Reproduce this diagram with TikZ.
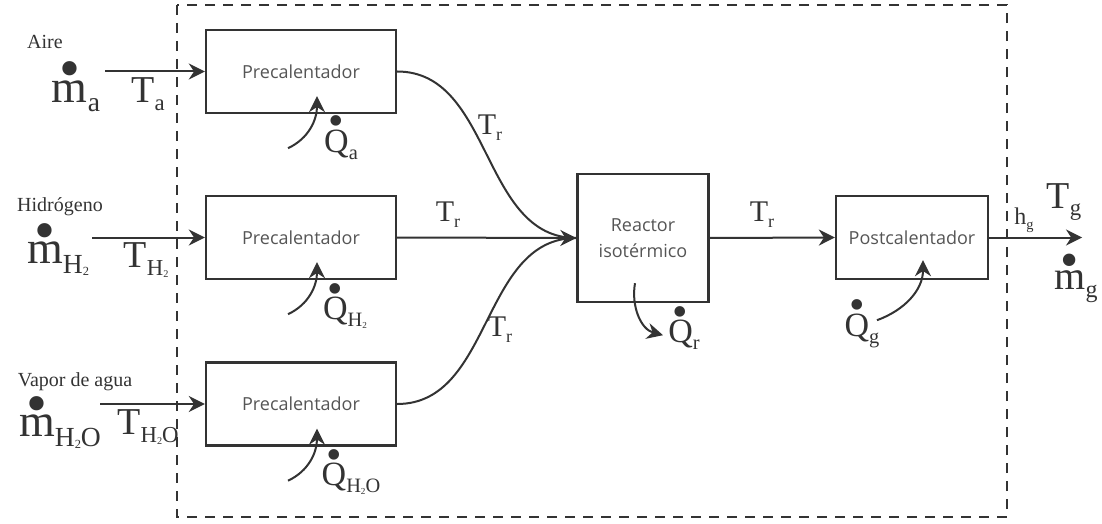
\documentclass[tikz,border=0pt]{standalone}
\usepackage{fontspec}
\setmainfont{Liberation Serif}
\newfontfamily\cajafont{Open Sans}
\usetikzlibrary{arrows.meta, positioning}
\definecolor{trazo}{RGB}{51,51,51}
\definecolor{textocaja}{RGB}{85,85,85}
% subindices y punto de flujo
\newcommand{\ind}[1]{\raisebox{-0.2em}{\scalebox{0.6}{#1}}}
\newcommand{\indd}[1]{\raisebox{-0.1em}{\scalebox{0.45}{#1}}}
\newcommand{\flujo}[1]{\leavevmode\ooalign{#1\cr\hidewidth
  \raisebox{\dimexpr\fontcharht\font`#1-0.16em\relax}{\scalebox{1.3}{\textbullet}}\hidewidth\cr}}
\tikzset{
  caja/.style={draw=trazo, line width=1.2pt, minimum width=95pt,
               minimum height=41.5pt, align=center, text=textocaja,
               font=\cajafont\fontsize{9}{13}\selectfont},
  flecha/.style={draw=trazo, line width=1pt, -{Stealth[length=8pt, width=8pt]}},
  conector/.style={draw=trazo, line width=1pt},
  frontera/.style={draw=trazo, line width=1pt, dash pattern=on 5pt off 4pt},
  etiq/.style={inner sep=0pt, text=trazo},
  corriente/.style={etiq, font=\fontsize{10}{12}\selectfont},
  masa/.style={etiq, font=\fontsize{23}{24}\selectfont},
  temp/.style={etiq, font=\fontsize{19}{20}\selectfont},
  tempr/.style={etiq, font=\fontsize{15}{16}\selectfont},
  calor/.style={etiq, font=\fontsize{17}{18}\selectfont},
}

\begin{document}
\begin{tikzpicture}[x=0.5pt, y=-0.5pt]
  \useasboundingbox (0,0) rectangle (1102,524);

  %% ─── Volumen de control ───────────────────────────────────────────────────
  \draw[frontera] (177,5) rectangle (1007,517);

  %% ─── Precalentadores ──────────────────────────────────────────────────────
  \foreach \i/\yy/\xin in {1/71.5/105, 2/237.5/92, 3/404/100} {
    \node[caja] (pre\i) at (301,\yy) {Precalentador};
    \coordinate (in\i) at (\xin,\yy);
    \draw[flecha] (in\i) -- (pre\i.west);
    % calor de cada precalentador
    \coordinate (qini\i) at ([xshift=-6.5pt, yshift=-17pt]pre\i.south);
    \coordinate (qfin\i) at ([xshift=8pt, yshift=9pt]pre\i.south);
    \draw[flecha] (qini\i) to[out=25, in=-90] (qfin\i);
  }

  \node[corriente] (aire) at (45,42) {Aire};
  \node[masa] (ma) at (76,96) {\flujo{m}\ind{a}};
  \node[temp] (ta) at (148,94) {T\ind{a}};
  \node[calor] (qa) at (341,145) {\flujo{Q}\ind{a}};

  \node[corriente] (hidro) at (60,207) {Hidrógeno};
  \node[masa] (mh) at (58,259) {\flujo{m}\ind{H\indd{2}}};
  \node[temp] (th) at (146,260) {T\ind{H\indd{2}}};
  \node[calor] (qh) at (345,313) {\flujo{Q}\ind{H\indd{2}}};

  \node[corriente] (vapor) at (75,382) {Vapor de agua};
  \node[masa] (mv) at (60,432) {\flujo{m}\ind{H\indd{2}O}};
  \node[temp] (tv) at (148,427) {T\ind{H\indd{2}O}};
  \node[calor] (qv) at (351,479) {\flujo{Q}\ind{H\indd{2}O}};

  %% ─── Reactor ──────────────────────────────────────────────────────────────
  \node[caja, minimum width=65.5pt, minimum height=64pt] (reactor) at (643,238)
    {Reactor\\isotérmico};

  \draw[conector] (pre1.east) to[out=0, in=180] (reactor.west);
  \draw[conector] (pre3.east) to[out=0, in=180] (reactor.west);
  \draw[flecha] (pre2.east) -- (reactor.west);

  \node[tempr] (tr1) at (490,128) {T\ind{r}};
  \node[tempr] (tr2) at (448,215) {T\ind{r}};
  \node[tempr] (tr3) at (500,330) {T\ind{r}};

  \coordinate (qrini) at ([xshift=-4pt, yshift=10pt]reactor.south);
  \coordinate (qrfin) at ([xshift=10pt, yshift=-16pt]reactor.south);
  \draw[flecha] (qrini) to[out=-100, in=165] (qrfin);
  \node[calor] (qr) at (684,335) {\flujo{Q}\ind{r}};

  %% ─── Postcalentador ───────────────────────────────────────────────────────
  \node[caja, minimum width=76pt] (post) at (912,237.5) {Postcalentador};
  \draw[flecha] (reactor.east) -- (post.west);
  \node[tempr] (tr4) at (762,215) {T\ind{r}};

  \coordinate (qgini) at ([xshift=-17.5pt, yshift=-20pt]post.south);
  \coordinate (qgfin) at ([xshift=5.5pt, yshift=10pt]post.south);
  \draw[flecha] (qgini) to[out=20, in=-90] (qgfin);
  \node[calor] (qg) at (862,331) {\flujo{Q}\ind{g}};

  \coordinate (salida) at (1082,237.5);
  \draw[flecha] (post.east) -- (salida);
  \node[etiq, font=\fontsize{12}{13}\selectfont] (hg) at (1024,220) {h\ind{g}};
  \node[etiq, font=\fontsize{19}{20}\selectfont] (tg) at (1064,202) {T\ind{g}};
  \node[etiq, font=\fontsize{20}{21}\selectfont] (mg) at (1076,287) {\flujo{m}\ind{g}};
\end{tikzpicture}
\end{document}
